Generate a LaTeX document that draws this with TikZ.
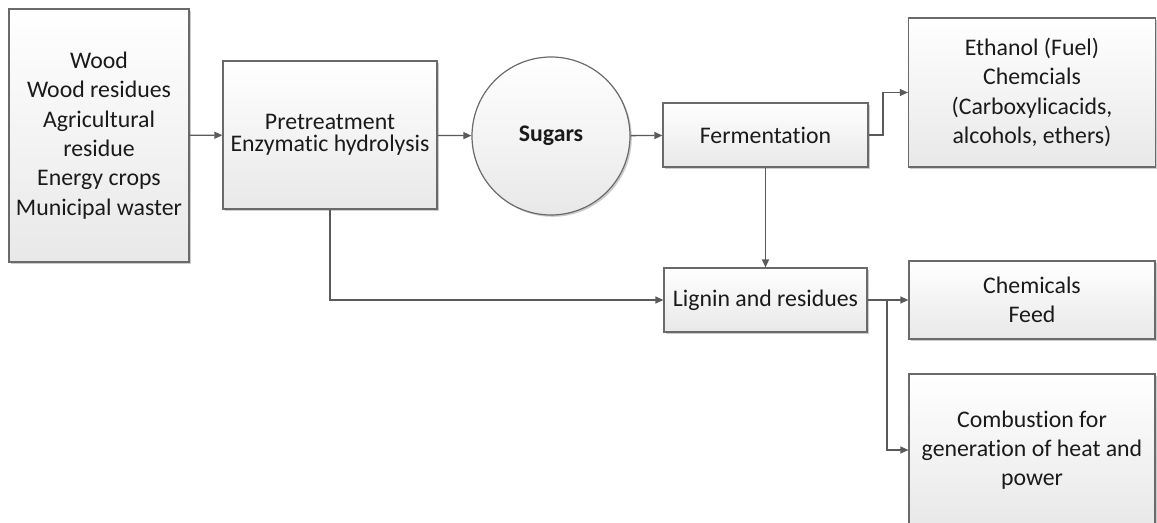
\documentclass[tikz,border=0pt]{standalone}
\usepackage{fontspec}
\setmainfont[Ligatures=NoCommon]{Carlito}
\usetikzlibrary{arrows.meta,shadows}
\definecolor{edge}{HTML}{6A6A6A}
\definecolor{conn}{HTML}{5A5A5A}
\definecolor{txt}{HTML}{1A1A1A}
\begin{document}
\begin{tikzpicture}[x=1bp,y=-1bp,
  box/.style={draw=edge, line width=1.2bp, top color=white, bottom color=black!9,
    drop shadow={shadow xshift=1.8bp, shadow yshift=-1.8bp, fill=black, opacity=0.2},
    align=center, inner sep=0pt, text=txt,
    font=\fontsize{23.8bp}{29.3bp}\selectfont},
  conn/.style={draw=conn, line width=1.3bp, -{Triangle[length=8bp,width=7bp]}}
]
\useasboundingbox (0,0) rectangle (1157,523);
\node[box, minimum width=180bp, minimum height=253bp] (in) at (99,135.5)
  {Wood\\Wood residues\\Agricultural\\residue\\Energy crops\\Municipal waster};
\node[box, minimum width=214bp, minimum height=148bp, font=\fontsize{23.8bp}{21.7bp}\selectfont] (pre) at (330,135)
  {Pretreatment\\Enzymatic hydrolysis};
\node[box, circle, minimum size=158bp, font=\fontsize{23.8bp}{29.3bp}\selectfont\bfseries] (sug) at (551,136) {Sugars};
\node[box, minimum width=205bp, minimum height=64bp] (fer) at (765.5,135) {Fermentation};
\node[box, minimum width=247bp, minimum height=149bp] (eth) at (1032,92.5)
  {Ethanol (Fuel)\\Chemcials\\(Carboxylicacids,\\alcohols, ethers)};
\node[box, minimum width=203bp, minimum height=64bp] (lig) at (765.5,300) {Lignin and residues};
\node[box, minimum width=246bp, minimum height=78bp] (chem) at (1032,300) {Chemicals\\Feed};
\node[box, minimum width=246bp, minimum height=152bp] (comb) at (1032,450)
  {Combustion for\\generation of heat and\\power};
\coordinate (fb) at (883,135);
\coordinate (br) at (887,300);
\draw[conn] (in) -- (pre);
\draw[conn] (pre) -- (sug);
\draw[conn] (sug) -- (fer);
\draw[conn] (fer.east) -- (fb) |- (eth.west);
\draw[conn] (fer) -- (lig);
\draw[conn] (pre.south) |- (lig.west);
\draw[conn] (lig) -- (chem);
\draw[conn] (br) |- (comb.west);
\end{tikzpicture}
\end{document}
